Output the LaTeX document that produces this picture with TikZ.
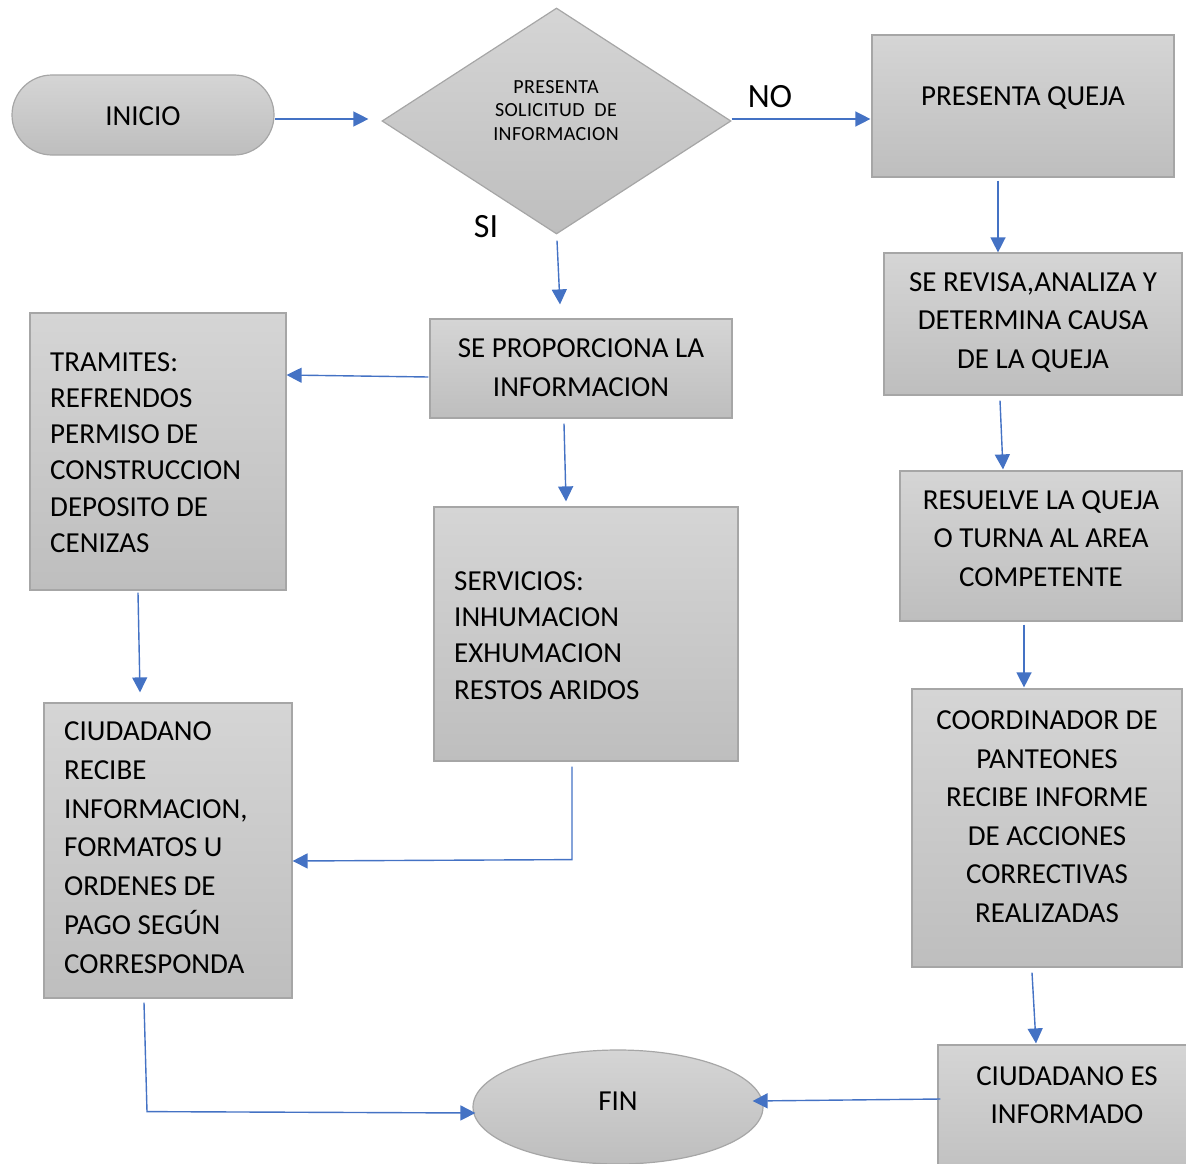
\documentclass[tikz,border=0pt]{standalone}
\usepackage{fontspec}
\setmainfont{Carlito}
\usetikzlibrary{arrows.meta,shapes.geometric,calc}
\definecolor{edgegray}{HTML}{A6A6A6}
\definecolor{shadetop}{HTML}{D5D5D5}
\definecolor{shadebot}{HTML}{BEBEBE}
\definecolor{flow}{HTML}{4472C4}

\begin{document}
\begin{tikzpicture}[x=1pt,y=-1pt,
  shapebase/.style={draw=edgegray, line width=1.2pt, top color=shadetop, bottom color=shadebot, inner sep=0pt},
  box/.style={shapebase, rectangle},
  txt/.style={inner sep=0pt, text=black, font=\fontsize{29}{38.5}\selectfont, align=center},
  txtl/.style={txt, align=left, anchor=west},
  conn/.style={draw=flow, line width=1.4pt, -{Triangle[length=15pt,width=15pt]}},
  plain/.style={draw=flow, line width=1.4pt}
]
\useasboundingbox (0,0) rectangle (1186,1164);
\clip (0,0) rectangle (1186,1164);

% shapes
\node[shapebase, rounded corners=40pt, minimum width=262pt, minimum height=80pt] (start) at (143,115) {};
\node[shapebase, diamond, minimum width=349pt, minimum height=226pt] (dia) at (556.5,121) {};
\node[box, minimum width=302pt, minimum height=142pt] (queja) at (1023,106) {};
\node[box, minimum width=298pt, minimum height=142pt] (revisa) at (1033,324) {};
\node[box, minimum width=282pt, minimum height=150pt] (resuelve) at (1041,546) {};
\node[box, minimum width=270pt, minimum height=278pt] (coord) at (1047,828) {};
\node[box, minimum width=262pt, minimum height=145pt] (informado) at (1069,1117.5) {};
\node[shapebase, ellipse, minimum width=290pt, minimum height=114pt] (fin) at (618,1107) {};
\node[box, minimum width=302pt, minimum height=99pt] (prop) at (581,368.5) {};
\node[box, minimum width=256pt, minimum height=277pt] (tram) at (158,451.5) {};
\node[box, minimum width=304pt, minimum height=254pt] (serv) at (586,634) {};
\node[box, minimum width=248pt, minimum height=295pt] (recibe) at (168,850.5) {};

% texts
\node[txt] (startT) at (143,116) {INICIO};
\node[txt, font=\fontsize{20}{23.5}\selectfont\addfontfeature{LetterSpace=2}] (diaT) at (556,110.5) {PRESENTA\\SOLICITUD~~DE\\INFORMACION};
\node[txt, font=\fontsize{34}{40}\selectfont] (noT) at (770,97) {NO};
\node[txt, font=\fontsize{34}{40}\selectfont] (siT) at (486,227) {SI};
\node[txt] (quejaT) at (1023,98) {PRESENTA QUEJA};
\node[txt] (revisaT) at (1033,322.5) {SE REVISA,ANALIZA Y\\DETERMINA CAUSA\\DE LA QUEJA};
\node[txt] (resuelveT) at (1041,538.5) {RESUELVE LA QUEJA\\O TURNA AL AREA\\COMPETENTE};
\node[txt] (coordT) at (1047,816.5) {COORDINADOR DE\\PANTEONES\\RECIBE INFORME\\DE ACCIONES\\CORRECTIVAS\\REALIZADAS};
\node[txt] (informadoT) at (1067,1095) {CIUDADANO ES\\INFORMADO};
\node[txt] (finT) at (618,1101) {FIN};
\node[txt] (propT) at (581,367.5) {SE PROPORCIONA LA\\INFORMACION};
\node[txtl, font=\fontsize{29}{36.2}\selectfont] (tramT) at (50,452.5) {TRAMITES:\\REFRENDOS\\PERMISO DE\\CONSTRUCCION\\DEPOSITO DE\\CENIZAS};
\node[txtl, font=\fontsize{29}{36.3}\selectfont] (servT) at (454,635.5) {SERVICIOS:\\INHUMACION\\EXHUMACION\\RESTOS ARIDOS};
\node[txtl, font=\fontsize{29}{38.8}\selectfont] (recibeT) at (64,847.5) {CIUDADANO\\RECIBE\\INFORMACION,\\FORMATOS U\\ORDENES DE\\PAGO SEGÚN\\CORRESPONDA};

% connectors
\draw[conn] ($(start.east)+(0,4)$) -- ($(dia.west)+(-13,-2)$);
\draw[conn] ($(dia.east)+(0,-2)$) -- ($(queja.west)+(-1,13)$);
\draw[conn] ($(dia.south)+(0.5,6)$) -- ($(prop.north)+(-21,-14)$);
\draw[conn] ($(queja.south)+(-25,3)$) -- ($(revisa.north)+(-35,0)$);
\draw[conn] ($(revisa.south)+(-33,5)$) -- ($(resuelve.north)+(-38,-1)$);
\draw[conn] ($(resuelve.south)+(-17,3)$) -- ($(coord.north)+(-23,-1)$);
\draw[conn] ($(coord.south)+(-15,5)$) -- ($(informado.north)+(-33,-1)$);
\draw[conn] ($(informado.west)+(3,-18.5)$) -- ($(fin.east)+(-11,-6)$);
\draw[conn] ($(prop.west)+(-1,8.5)$) -- ($(tram.east)+(0,-76.5)$);
\draw[conn] ($(prop.south)+(-17,5)$) -- ($(serv.north)+(-20,-5)$);
\draw[conn] ($(tram.south)+(-20,2)$) -- ($(recibe.north)+(-28,-10)$);
\draw[conn] ($(serv.south)+(-14,5)$) -- ($(serv.south)+(-14,98)$) -- ($(recibe.east)+(0,10.5)$);
\draw[conn] ($(recibe.south)+(-24,4)$) -- ($(recibe.south)+(-21,113)$) -- ($(fin.west)+(3,6)$);
\end{tikzpicture}
\end{document}
